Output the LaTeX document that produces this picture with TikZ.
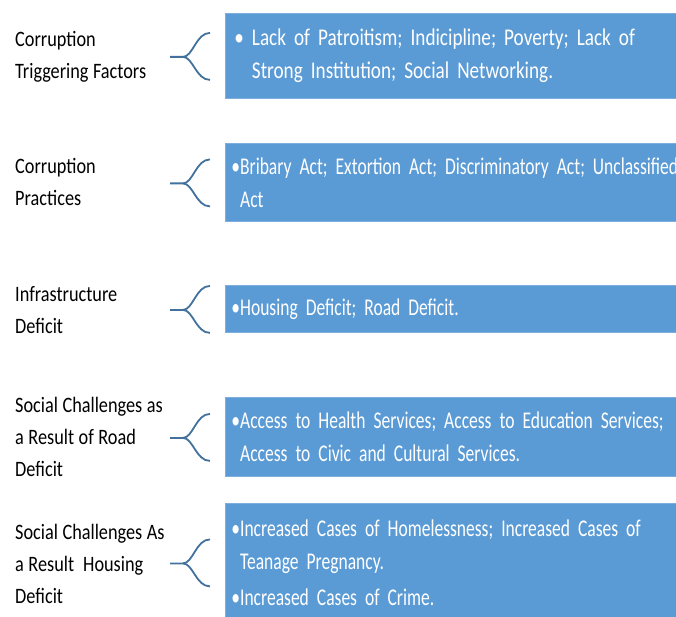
\documentclass[tikz,border=0pt]{standalone}
\usepackage{fontspec}
\setmainfont{Carlito}[FakeStretch=0.83]
\newfontfamily\boxfont{Carlito}[FakeStretch=0.73]
\newfontfamily\topboxfont{Carlito}[FakeStretch=0.8]
\usepackage{xcolor}
\usetikzlibrary{calc}
\definecolor{boxblue}{HTML}{5B9BD5}
\definecolor{braceblue}{HTML}{41719C}
\DeclareRobustCommand\tightsp{\spaceskip=4.5pt plus 1pt\relax}
\DeclareRobustCommand\tightersp{\spaceskip=3.5pt plus 1pt\relax}
\tikzset{
	lbl/.style={anchor=west, align=left, inner sep=0pt, font=\fontsize{22}{32}\selectfont\tightsp},
	item/.style={anchor=north west, fill=boxblue, draw=boxblue!80!white, line width=0.8pt, text=white,
		text width=600pt, inner xsep=6pt, align=left, font=\boxfont\fontsize{24}{33}\selectfont\tightersp},
	brace/.style={draw=braceblue, line width=1.8pt}
}

\begin{document}
\begin{tikzpicture}[x=1pt,y=-1pt]
			\useasboundingbox (0,0) rectangle (676,617);
			\clip (0,0) rectangle (676,617);
			% labels on the left
			\node[lbl] (fac) at (15,56.5) {Corruption\\Triggering Factors};
			\node[lbl] (prac) at (15,181.5) {Corruption\\Practices};
			\node[lbl] (infra) at (15,310.5) {Infrastructure\\Deficit};
			\node[lbl] (road) at (15,436.5) {Social Challenges as\\a Result of Road\\Deficit};
			\node[lbl] (house) at (15,563.5) {Social Challenges As\\a Result~ Housing\\Deficit};
			% boxes
			\node[item, minimum height=85pt, font=\topboxfont\fontsize{24}{33}\selectfont\tightsp] (facbox) at (225,13) {\hspace{3pt}• Lack of Patroitism; Indicipline; Poverty; Lack of\\\hspace{3pt}\phantom{• }Strong Institution; Social Networking.};
			\node[item, minimum height=78pt] (pracbox) at (225,143) {•Bribary Act; Extortion Act; Discriminatory Act; Unclassified\\\phantom{•}Act};
			\node[item, minimum height=47pt] (infrabox) at (225,285) {•Housing Deficit; Road Deficit.};
			\node[item, minimum height=79pt] (roadbox) at (225,397) {•Access to Health Services; Access to Education Services;\\\phantom{•}Access to Civic and Cultural Services.};
			\node[item, minimum height=118pt] (housebox) at (225,503) {•Increased Cases of Homelessness; Increased Cases of\\\phantom{•}Teanage Pregnancy.\\[3pt]•Increased Cases of Crime.};
			% braces between label and box
			\foreach \b in {facbox,pracbox,infrabox,roadbox,housebox}{
				\draw[brace] ($(\b.west)+(-55,1)$) -- ++(13,0) .. controls +(10,0) and +(-14,0) .. ($(\b.west)+(-15,-23)$);
				\draw[brace] ($(\b.west)+(-42,1)$) .. controls +(10,0) and +(-14,0) .. ($(\b.west)+(-15,24)$);
			}
		\end{tikzpicture}
\end{document}
